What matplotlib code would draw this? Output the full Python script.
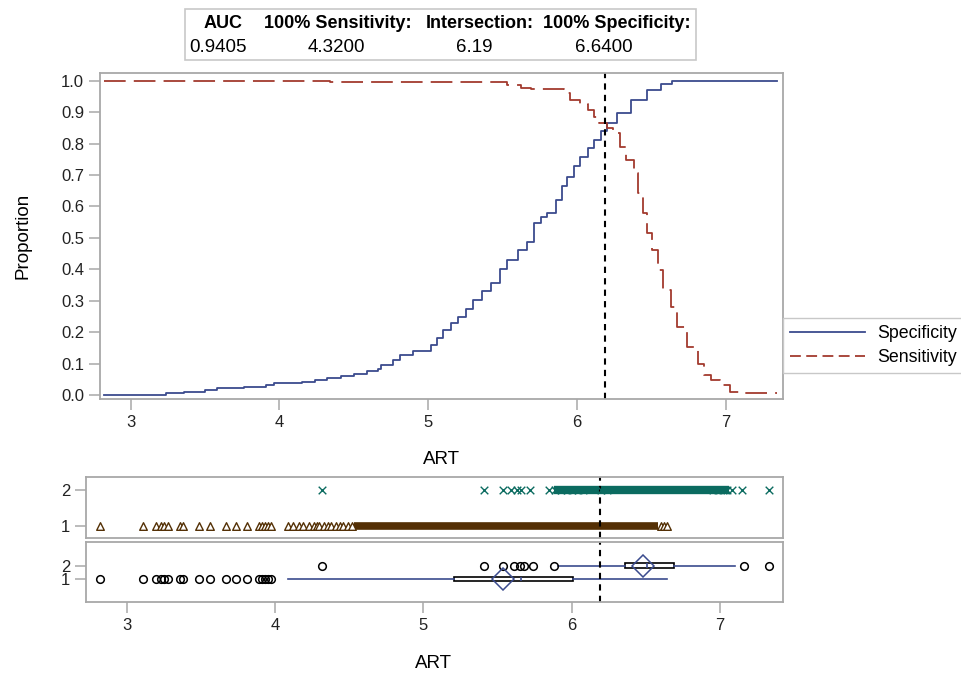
import matplotlib
matplotlib.use('Agg')
import matplotlib.pyplot as plt
from matplotlib.lines import Line2D
from matplotlib.patches import Rectangle

plt.rcParams['font.family'] = ['Liberation Sans', 'DejaVu Sans']

# summary table
table_heads = ['AUC', '100% Sensitivity:', 'Intersection:', '100% Specificity:']
table_vals = ['0.9405', '4.3200', '6.19', '6.6400']
cutoff = 6.19

# specificity / sensitivity step curves
spec_x = [2.82, 3.24, 3.36, 3.50, 3.58, 3.76, 3.91, 3.96, 4.15, 4.24, 4.32, 4.41,
          4.50, 4.59, 4.66, 4.68, 4.74, 4.76, 4.81, 4.90, 5.02, 5.06, 5.10, 5.15,
          5.20, 5.25, 5.30, 5.36, 5.42, 5.48, 5.53, 5.60, 5.66, 5.71, 5.76, 5.80,
          5.86, 5.90, 5.93, 5.98, 6.02, 6.07, 6.11, 6.16, 6.20, 6.27, 6.36, 6.47,
          6.56, 6.64, 7.34]
spec_y = [0.0, 0.007, 0.011, 0.016, 0.021, 0.027, 0.032, 0.037, 0.042, 0.048, 0.053, 0.060,
          0.068, 0.077, 0.084, 0.095, 0.097, 0.110, 0.126, 0.140, 0.159, 0.180, 0.207, 0.230,
          0.249, 0.275, 0.302, 0.330, 0.355, 0.400, 0.430, 0.461, 0.488, 0.546, 0.565, 0.578,
          0.620, 0.665, 0.695, 0.730, 0.758, 0.785, 0.811, 0.840, 0.864, 0.896, 0.939, 0.970,
          0.990, 1.0, 1.0]
sens_x = [2.82, 4.34, 5.53, 5.62, 5.69, 5.91, 5.95, 6.02, 6.07, 6.11, 6.15, 6.20,
          6.24, 6.29, 6.33, 6.38, 6.41, 6.44, 6.47, 6.50, 6.54, 6.58, 6.63, 6.67,
          6.74, 6.81, 6.85, 6.90, 6.96, 7.03, 7.10, 7.34]
sens_y = [1.0, 0.995, 0.985, 0.976, 0.973, 0.960, 0.940, 0.925, 0.907, 0.886, 0.864, 0.849,
          0.833, 0.790, 0.748, 0.706, 0.642, 0.578, 0.514, 0.461, 0.398, 0.334, 0.281, 0.217,
          0.154, 0.100, 0.064, 0.048, 0.032, 0.011, 0.007, 0.007]

# group 1 (negative) ART values: sparse points + dense run
neg_pts = [2.82, 3.11, 3.20, 3.23, 3.25, 3.28, 3.36, 3.38, 3.49, 3.56, 3.67, 3.74,
           3.81, 3.89, 3.91, 3.93, 3.95, 3.97, 4.09, 4.12, 4.16, 4.19, 4.23, 4.26,
           4.28, 4.30, 4.33, 4.36, 4.38, 4.41, 4.44, 4.46, 4.49, 4.52, 6.60, 6.62, 6.64]
neg_dense = (4.53, 6.58)
# group 2 (positive)
pos_pts = [4.32, 5.41, 5.54, 5.59, 5.63, 5.66, 5.72, 5.85, 5.89, 5.93, 5.97, 6.00,
           6.04, 6.08, 6.20, 6.24, 6.95, 6.99, 7.02, 7.05, 7.08, 7.15, 7.33]
pos_dense = (5.88, 7.06)

# box plot summaries
box_stats = [
    dict(label='1', q1=5.21, med=5.66, q3=6.01, mean=5.54, whislo=4.09, whishi=6.64,
         fliers=[2.82, 3.11, 3.20, 3.23, 3.25, 3.28, 3.36, 3.38, 3.49, 3.56, 3.67, 3.74,
                 3.81, 3.89, 3.91, 3.93, 3.95, 3.97]),
    dict(label='2', q1=6.36, med=6.51, q3=6.69, mean=6.48, whislo=5.91, whishi=7.10,
         fliers=[4.32, 5.41, 5.54, 5.61, 5.65, 5.68, 5.74, 5.88, 7.16, 7.33]),
]

BLUE = '#3b4b8e'
RED = '#a23a2e'
TEAL = '#0b6b60'
BROWN = '#543005'
FRAME = '#a8a8a8'
FS = 12
LFS = 13.5

W, H = 961, 673
fig = plt.figure(figsize=(W / 100, H / 100), dpi=100)


def box(l, t, r, b):
    return [l / W, 1 - b / H, (r - l) / W, (b - t) / H]


def style(ax):
    for s in ax.spines.values():
        s.set_color(FRAME)
        s.set_linewidth(1.3)
    ax.tick_params(colors=FRAME, labelcolor='#222222', labelsize=FS, length=8, width=1.1)


# main plot
ax = fig.add_axes(box(100, 73, 783, 399))
ax.step(spec_x, spec_y, where='post', color=BLUE, lw=1.3)
ax.step(sens_x, sens_y, where='post', color=RED, lw=1.3, dashes=(12, 4.5))
ax.axvline(cutoff, color='black', lw=1.5, dashes=(3, 2.5))
ax.set_xlim(2.794, 7.383)
ax.set_ylim(-0.0127, 1.0245)
ax.set_xticks([3, 4, 5, 6, 7])
ax.set_yticks([i / 10 for i in range(11)])
ax.set_yticklabels(['%.1f' % (i / 10) for i in range(11)])
style(ax)
fig.text(23 / W, 1 - 236 / H, 'Proportion', rotation=90, ha='center', va='center', fontsize=LFS)
fig.text(441 / W, 1 - 459 / H, 'ART', ha='center', va='center', fontsize=LFS)

# table
fig.patches.append(Rectangle((185 / W, 1 - 60 / H), 511 / W, 51 / H, transform=fig.transFigure,
                             fc='white', ec='#c8c8c8', lw=1.2))
for head, val, hx, vx in zip(table_heads, table_vals, [223, 338, 480, 617], [218, 336, 474, 604]):
    fig.text(hx / W, 1 - 23 / H, head, ha='center', va='center', fontsize=13, fontweight='bold')
    fig.text(vx / W, 1 - 48 / H, val, ha='center', va='center', fontsize=13.5)

# legend
handles = [Line2D([], [], color=BLUE, lw=1.3),
           Line2D([], [], color=RED, lw=1.3, dashes=(6, 3))]
leg = fig.legend(handles, ['Specificity', 'Sensitivity'], loc='upper left',
                 bbox_to_anchor=(783 / W, 1 - 318 / H), borderaxespad=0, fontsize=12.8,
                 handlelength=4.2, handletextpad=0.7, labelspacing=0.4, borderpad=0.4,
                 fancybox=False, framealpha=1)
leg.get_frame().set_edgecolor('#c8c8c8')

# scatter panel
ax2 = fig.add_axes(box(86, 477, 783, 538))
ax2.scatter(neg_pts, [1] * len(neg_pts), marker='^', s=30, facecolors='white',
            edgecolors=BROWN, linewidths=1.0, zorder=3)
ax2.hlines(1, neg_dense[0], neg_dense[1], color=BROWN, lw=5.5, zorder=2)
ax2.scatter(pos_pts, [2] * len(pos_pts), marker='x', s=30, color=TEAL, linewidths=1.0, zorder=3)
ax2.hlines(2, pos_dense[0], pos_dense[1], color=TEAL, lw=6, zorder=2)
ax2.axvline(cutoff, color='black', lw=1.5, dashes=(3, 2.5))
ax2.set_xlim(2.726, 7.425)
ax2.set_ylim(0.67, 2.36)
ax2.set_yticks([1, 2])
ax2.set_xticks([])
style(ax2)

# box panel
ax3 = fig.add_axes(box(86, 542, 783, 602))
ax3.bxp(box_stats, positions=[1, 2], vert=False, widths=0.32, showmeans=True,
        showcaps=False, patch_artist=True,
        boxprops=dict(facecolor='white', edgecolor='black', lw=1.2),
        whiskerprops=dict(color=BLUE, lw=1.2),
        medianprops=dict(color=BLUE, lw=1.2),
        meanprops=dict(marker='D', markersize=11, markerfacecolor='none',
                       markeredgecolor=BLUE, markeredgewidth=1.1),
        flierprops=dict(marker='o', markersize=5.5, markerfacecolor='none',
                        markeredgecolor='black', markeredgewidth=1.1))
ax3.axvline(cutoff, color='black', lw=1.5, dashes=(3, 2.5))
ax3.set_xlim(2.726, 7.425)
ax3.set_ylim(-0.66, 3.73)
ax3.set_yticks([1, 2])
ax3.set_yticklabels(['1', '2'])
ax3.set_xticks([3, 4, 5, 6, 7])
style(ax3)
fig.text(433 / W, 1 - 663 / H, 'ART', ha='center', va='center', fontsize=LFS)

fig.savefig('out.png', dpi=100)
